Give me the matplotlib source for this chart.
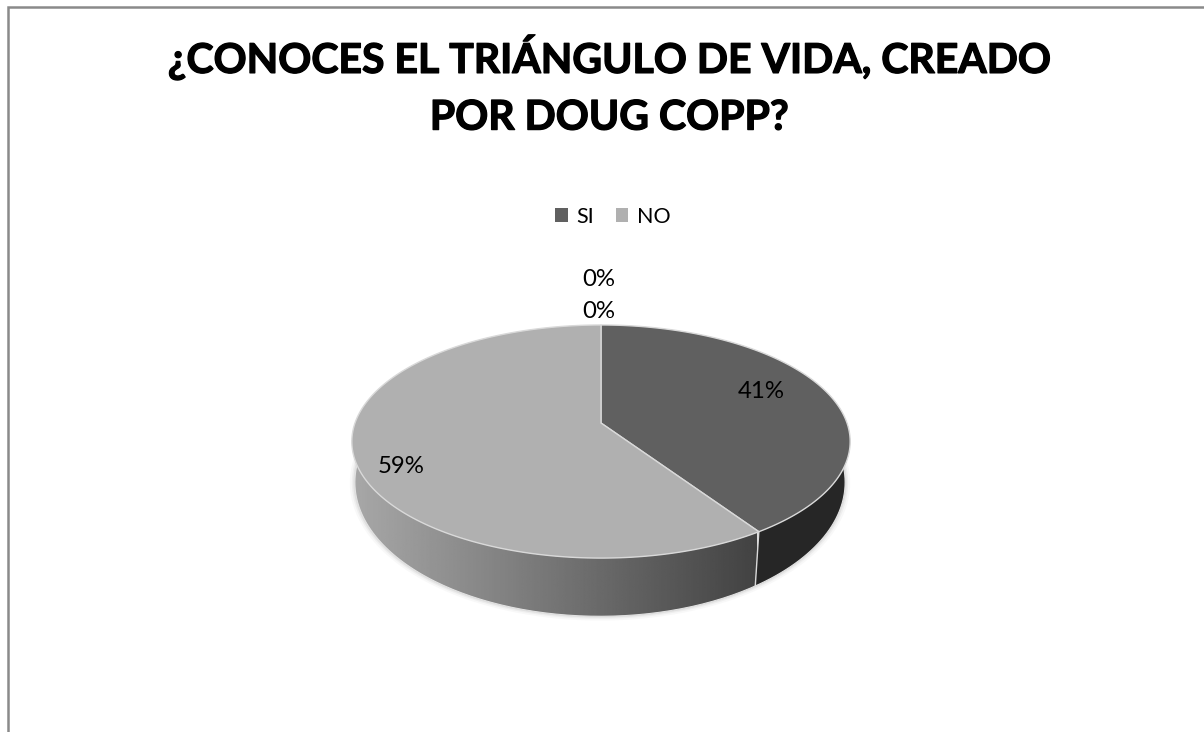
import numpy as np
import matplotlib
matplotlib.use('Agg')
import matplotlib.pyplot as plt
import matplotlib.patheffects as pe
from matplotlib.patches import Patch, Polygon

plt.rcParams['font.family'] = ['Lato', 'DejaVu Sans']

# Data
categories = ['SI', 'NO']
values = [40.6, 59.4]
label_texts = ['41%', '59%', '0%', '0%']
title = '¿CONOCES EL TRIÁNGULO DE VIDA, CREADO\nPOR DOUG COPP?'
colors = ['#606060', '#b0b0b0']
wall_dark = '#262626'
edge = '#d9d9d9'

K = 0.159  # perspective of the tilted disc


def disc(theta, cx, cy, a, b):
    # theta clockwise from 12 o'clock, returns pixel coords
    u, v = np.sin(theta), np.cos(theta)
    d = 1 + K * v
    return cx + a * u / d, cy - b * v / d


def top(theta):
    return disc(theta, 601, 423, 246, 113.6)


def bottom(theta):
    return disc(theta, 600, 461, 242, 130.6)


fig = plt.figure(figsize=(12.04, 7.32), dpi=100)
ax = fig.add_axes([0, 0, 1, 1])
ax.set_xlim(0, 1204)
ax.set_ylim(732, 0)
ax.axis('off')

# frame, open on right and bottom
ax.plot([8, 8, 1204], [732, 7, 7], color='#8a8a8a', lw=1.8, solid_joinstyle='miter')

ax.text(609, 86, title, ha='center', va='center', fontsize=29.5, fontweight='bold',
        color='black', linespacing=1.64,
        path_effects=[pe.withStroke(linewidth=0.9, foreground='black')])

# soft shadow below the wall
full = np.linspace(0, 2 * np.pi, 361)
for grow, alpha in [(5, 0.05), (3, 0.08), (1.5, 0.12)]:
    sx, sy = bottom(full)
    ax.add_patch(Polygon(np.c_[600 + (sx - 600) * (1 + grow / 242), 461 + (sy - 461) * (1 + grow / 180)],
                         closed=True, fc='#808080', ec='none', alpha=alpha, zorder=1))

fracs = np.array(values) / sum(values)
bounds = np.r_[0, np.cumsum(fracs)] * 2 * np.pi

# side wall, only the front part shows
front0 = np.pi / 2 - 0.03
front1 = 3 * np.pi / 2 + 0.03
t_si = np.linspace(front0, bounds[1], 80)
tx, ty = top(t_si)
bx, by = bottom(t_si)
ax.add_patch(Polygon(np.r_[np.c_[tx, ty], np.c_[bx, by][::-1]], closed=True,
                     fc=wall_dark, ec='none', zorder=2))

t_no = np.linspace(bounds[1], front1, 160)
tx, ty = top(t_no)
bx, by = bottom(t_no)
wall = Polygon(np.r_[np.c_[tx, ty], np.c_[bx, by][::-1]], closed=True,
               fc='none', ec='none', zorder=2)
ax.add_patch(wall)
grad = np.linspace(0.66, 0.26, 256).reshape(1, -1)
im = ax.imshow(grad, extent=(350, 757, 620, 440), cmap='gray', vmin=0, vmax=1,
               aspect='auto', zorder=2)
im.set_clip_path(wall)
ax.set_xlim(0, 1204)
ax.set_ylim(732, 0)

# wall edge between slices
jx = [top(bounds[1])[0], bottom(bounds[1])[0]]
jy = [top(bounds[1])[1], bottom(bounds[1])[1]]
ax.plot(jx, jy, color=edge, lw=1, zorder=3)

# lit rim along the bottom of the wall
t_rim = np.linspace(front0, front1, 240)
ax.plot(*bottom(t_rim), color='#e2e2e2', lw=0.8, zorder=3)

# top face
for i in range(len(values)):
    t = np.linspace(bounds[i], bounds[i + 1], 200)
    x, y = top(t)
    pts = np.r_[[[601, 423]], np.c_[x, y]]
    ax.add_patch(Polygon(pts, closed=True, fc=colors[i], ec=edge, lw=1, zorder=4))

# data labels
label_pos = [(761, 391.5), (401, 466.5), (598.5, 279), (598.5, 311)]
for txt, (lx, ly) in zip(label_texts, label_pos):
    ax.text(lx, ly, txt, ha='center', va='center', fontsize=17.3, color='black', zorder=5)

handles = [Patch(fc=c, ec='none', label=n) for c, n in zip(colors, categories)]
ax.legend(handles=handles, loc='center', bbox_to_anchor=(613 / 1204, 1 - 217 / 732),
          ncol=2, frameon=False, fontsize=15.5, handlelength=0.58, handleheight=0.62,
          handletextpad=0.42, columnspacing=1.0)

fig.savefig('out.png', dpi=100, facecolor='white')
